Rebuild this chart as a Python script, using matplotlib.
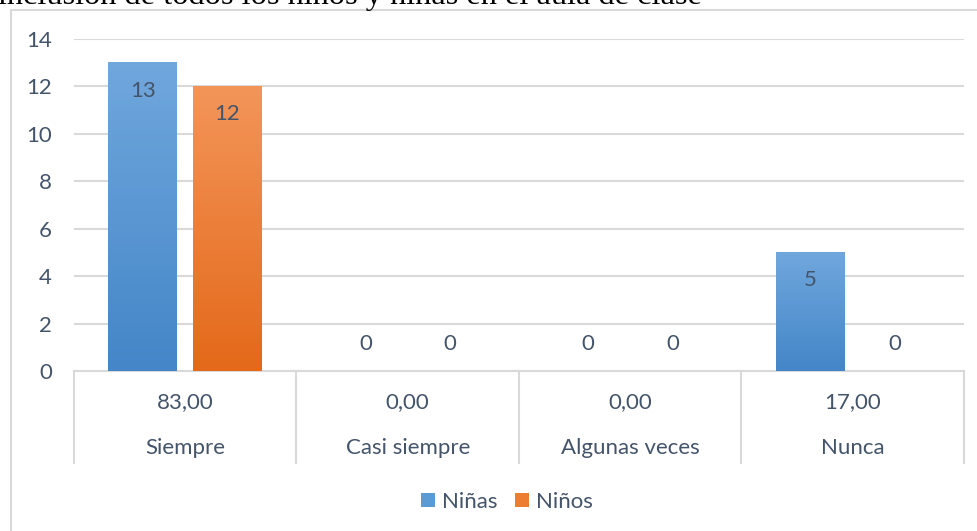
import matplotlib.pyplot as plt
import numpy as np
from matplotlib.patches import Patch, Rectangle
from matplotlib.colors import LinearSegmentedColormap

categories = ["Siempre", "Casi siempre", "Algunas veces", "Nunca"]
percent_labels = ["83,00", "0,00", "0,00", "17,00"]
ninas = [13, 0, 0, 5]
ninos = [12, 0, 0, 0]
series_names = ["Niñas", "Niños"]
title_text = "inclusión de todos los niños y niñas en el aula de clase"

plt.rcParams['font.family'] = ['Lato', 'DejaVu Sans']
text_color = '#44546A'
grid_color = '#D9D9D9'
fs = 16

fig = plt.figure(figsize=(9.78, 5.31), dpi=100)
W, H = 978, 531
ax = fig.add_axes([74 / W, 1 - 371 / H, 890 / W, 332 / H])

x = np.arange(len(categories))
width = 0.31
offset = 0.19

grads = [('#70A7DD', '#4486C8'), ('#F39559', '#E4691A')]
for vals, off, (top, bot) in zip([ninas, ninos], [-offset, offset], grads):
    bars = ax.bar(x + off, vals, width, color='none', zorder=3)
    cmap = LinearSegmentedColormap.from_list('g', [bot, top])
    for b, v in zip(bars, vals):
        if v > 0:
            ax.imshow(np.linspace(0, 1, 100).reshape(-1, 1), cmap=cmap,
                      extent=(b.get_x(), b.get_x() + b.get_width(), 0, b.get_height()),
                      origin='lower', aspect='auto', zorder=3)
        ly = v - 1.18 if v > 0 else 1.13
        ax.text(b.get_x() + b.get_width() / 2, ly, str(v), ha='center', va='center',
                fontsize=fs, color=text_color, zorder=4)

ax.set_xlim(-0.5, len(categories) - 0.5)
ax.set_ylim(0, 14)
ax.set_yticks(range(0, 15, 2))
ax.set_xticks([])
ax.tick_params(axis='y', length=0, pad=16, labelsize=fs, labelcolor=text_color)
ax.grid(axis='y', color=grid_color, linewidth=1.5, zorder=0)
for s in ['left', 'right', 'top']:
    ax.spines[s].set_visible(False)
ax.spines['bottom'].set_color(grid_color)
ax.spines['bottom'].set_linewidth(1.5)

# table under the axis
trans = ax.get_xaxis_transform()
for b in np.arange(-0.5, len(categories), 1.0):
    ax.plot([b, b], [0, -0.277], transform=trans, color=grid_color, lw=1.5, clip_on=False)
for i, (cat, pl) in enumerate(zip(categories, percent_labels)):
    ax.text(i, -0.093, pl, transform=trans, ha='center', va='center', fontsize=fs, color=text_color)
    ax.text(i, -0.232, cat, transform=trans, ha='center', va='center', fontsize=fs, color=text_color)

handles = [Patch(facecolor='#5B9BD5'), Patch(facecolor='#ED7D31')]
fig.legend(handles, series_names, loc='center', bbox_to_anchor=(507 / W, 1 - 502 / H),
           ncol=2, frameon=False, fontsize=fs, labelcolor=text_color,
           handlelength=0.63, handleheight=0.63, handletextpad=0.32, columnspacing=0.8)

# outer chart border
fig.patches.append(Rectangle((11 / W, -0.1), 1.0, 1.1 - 10 / H, transform=fig.transFigure,
                             fill=False, edgecolor=grid_color, lw=1.5))

fig.text(-0.002, 1 - 4 / H, title_text, family='Liberation Serif', fontsize=23.3,
         color='black', va='baseline', ha='left')

fig.savefig('out.png', dpi=100)
